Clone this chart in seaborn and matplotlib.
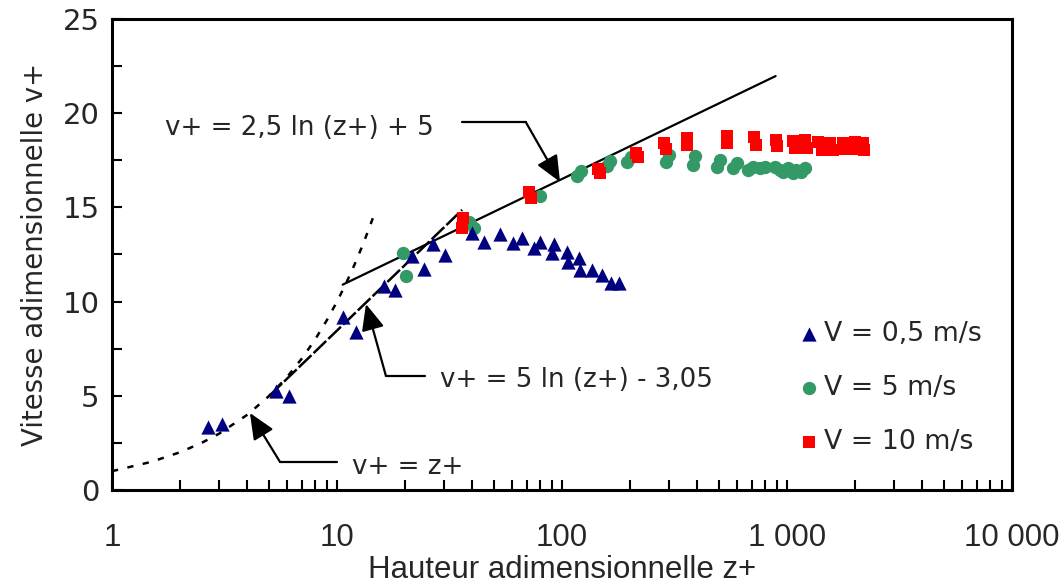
import numpy as np
import pandas as pd
import matplotlib
matplotlib.use("Agg")
import matplotlib.pyplot as plt
from matplotlib import font_manager, ticker
import seaborn as sns

# ---------------- data ----------------
z_05 = [2.68, 3.07, 5.36, 6.10, 10.67, 12.1, 16.1, 18.1, 21.5, 24.4, 26.6, 30.2,
        39.7, 45.2, 53, 60.8, 66.2, 75.1, 79.8, 90.6, 92.4, 105, 106, 119.4,
        120.2, 135.5, 150, 165, 180]
v_05 = [3.36, 3.49, 5.25, 5.0, 9.17, 8.37, 10.84, 10.6, 12.42, 11.71, 13.06, 12.47,
        13.62, 13.15, 13.59, 13.1, 13.36, 12.83, 13.15, 12.56, 13.04, 12.65, 12.12, 12.3,
        11.68, 11.68, 11.41, 11.0, 10.97]

z_5 = [19.6, 20.3, 38.5, 40.5, 79.8, 116, 122, 158, 164, 194, 203, 290, 300,
       383, 392, 490, 504, 575, 597, 673, 708, 756, 796, 888, 930, 963, 1006,
       1066, 1100, 1150, 1203]
v_5 = [12.6, 11.37, 14.2, 13.9, 15.6, 16.65, 16.92, 17.2, 17.45, 17.4, 17.7, 17.43, 17.78,
       17.25, 17.75, 17.16, 17.5, 17.07, 17.34, 16.98, 17.16, 17.07, 17.16, 17.16, 16.98,
       16.9, 17.07, 16.81, 16.98, 16.9, 17.07]

z_10 = [36.0, 36.4, 71.5, 73, 144, 147, 213, 218, 284, 290, 358, 361, 540, 543,
        716, 728, 891, 899, 1066, 1086, 1203, 1226, 1377, 1424, 1553, 1606,
        1780, 1810, 2005, 2050, 2185, 2200]
v_10 = [13.89, 14.42, 15.8, 15.5, 17.05, 16.85, 17.9, 17.65, 18.43, 18.08, 18.67, 18.3,
        18.79, 18.4, 18.75, 18.3, 18.6, 18.26, 18.54, 18.14, 18.58, 18.14, 18.49, 18.05,
        18.4, 18.05, 18.4, 18.08, 18.49, 18.08, 18.4, 18.05]

series_labels = ["V = 0,5 m/s", "V = 5 m/s", "V = 10 m/s"]

# reference curves (points read on the picture)
z_lin = [1, 1.5, 2, 2.5, 3, 4, 5, 6, 7, 8, 9, 10, 11, 12, 13, 14, 14.8]
v_lin = [1, 1.5, 2, 2.5, 3, 4, 5, 6, 7, 8, 9, 10, 11, 12, 13, 14, 14.8]
z_buf = [5.0, 36.0]
v_buf = [5.0, 14.87]
z_log = [10.6, 890]
v_log = [10.9, 21.97]

x_ticks = [1, 10, 100, 1000, 10000]
x_ticklabels = ["1", "10", "100", "1 000", "10 000"]
y_ticks = [0, 5, 10, 15, 20, 25]

# ---------------- style ----------------
sns.set_style("ticks")
plt.rcParams["font.family"] = ["DejaVu Sans"]
names = {f.name for f in font_manager.fontManager.ttflist}
narrow = "Liberation Sans Narrow" if "Liberation Sans Narrow" in names else "Liberation Sans"
xsize = 27 if narrow == "Liberation Sans Narrow" else 22.5

navy = "#000080"
green = "#339966"
red = "#FF0000"

fig = plt.figure(figsize=(10.6, 5.86), dpi=100)
ax = fig.add_axes([0.1057, 0.1638, 0.849, 0.8038])

# curves
sns.lineplot(x=z_lin, y=v_lin, ax=ax, color="black", lw=1.8, linestyle=(0, (2.5, 3.8)),
             sort=False, estimator=None, zorder=1)
sns.lineplot(x=z_buf, y=v_buf, ax=ax, color="black", lw=1.8, linestyle=(0, (7, 1.2)),
             sort=False, estimator=None, zorder=1)
sns.lineplot(x=z_log, y=v_log, ax=ax, color="black", lw=1.6, sort=False,
             estimator=None, zorder=1)

# points
sns.scatterplot(x=z_5, y=v_5, ax=ax, marker="o", color=green, s=92, linewidth=0,
                label=series_labels[1], zorder=3)
sns.scatterplot(x=z_05, y=v_05, ax=ax, marker="^", color=navy, s=105, linewidth=0,
                label=series_labels[0], zorder=4)
sns.scatterplot(x=z_10, y=v_10, ax=ax, marker="s", color=red, s=82, linewidth=0,
                label=series_labels[2], zorder=5)

ax.set_xscale("log")
ax.set_xlim(1, 10000)
ax.set_ylim(0, 25)
ax.xaxis.set_major_locator(ticker.FixedLocator(x_ticks))
ax.xaxis.set_major_formatter(ticker.FixedFormatter(x_ticklabels))
ax.xaxis.set_minor_locator(ticker.LogLocator(base=10, subs=np.arange(2, 10)))
ax.xaxis.set_minor_formatter(ticker.NullFormatter())
ax.yaxis.set_major_locator(ticker.FixedLocator(y_ticks))
ax.yaxis.set_minor_locator(ticker.MultipleLocator(2.5))

ax.tick_params(which="both", direction="in", length=7, width=1.5, color="black",
               top=False, right=False)
ax.tick_params(axis="y", which="major", labelsize=21, pad=9)
ax.tick_params(axis="x", which="major", pad=24)
for lab in ax.get_xticklabels():
    lab.set_fontfamily(narrow)
    lab.set_fontsize(xsize)
for sp in ax.spines.values():
    sp.set_visible(True)
    sp.set_linewidth(2.2)
    sp.set_color("black")

ax.set_xlabel("Hauteur adimensionnelle z+", fontsize=xsize, family=narrow, labelpad=1)
ax.set_ylabel("Vitesse adimensionnelle v+", fontsize=19.8, labelpad=10)

# annotations
arr = dict(arrowstyle="-|>,head_length=0.8,head_width=0.35", color="black", lw=1.6,
           shrinkA=0, shrinkB=0, mutation_scale=20)
ax.plot([35.9, 69.0], [19.53, 19.53], color="black", lw=1.6)
ax.annotate("", xy=(98, 16.35), xytext=(69.0, 19.53), arrowprops=arr)
ax.text(1.72, 19.2, "v+ = 2,5 ln (z+) + 5", fontsize=18.8, va="center", ha="left")

ax.plot([24.6, 16.5], [6.05, 6.05], color="black", lw=1.6)
ax.annotate("", xy=(13.45, 9.87), xytext=(16.5, 6.05), arrowprops=arr)
ax.text(28.7, 5.84, "v+ = 5 ln (z+) - 3,05", fontsize=18.8, va="center", ha="left")

ax.plot([10.0, 5.58], [1.49, 1.49], color="black", lw=1.6)
ax.annotate("", xy=(4.1, 4.09), xytext=(5.58, 1.49), arrowprops=arr)
ax.text(11.66, 1.22, "v+ = z+", fontsize=18.8, va="center", ha="left")

# legend
h, l = ax.get_legend_handles_labels()
order = [l.index(s) for s in series_labels]
leg = ax.legend([h[i] for i in order], [l[i] for i in order], loc="center left",
                bbox_to_anchor=(0.751, 0.217), frameon=False, fontsize=19.3,
                handlelength=0.6, handletextpad=0.25, labelspacing=1.05,
                markerscale=1.0, borderpad=0)

fig.savefig("out.png", dpi=100)
